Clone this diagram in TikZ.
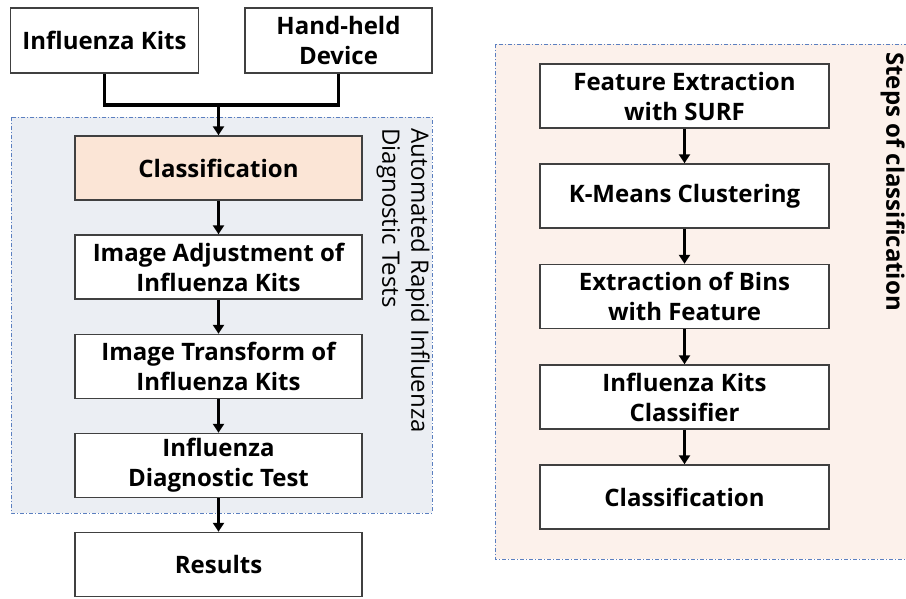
\documentclass[tikz,border=0pt]{standalone}
\usepackage{fontspec}
\setmainfont{Open Sans}
\usetikzlibrary{arrows.meta,positioning}
\definecolor{boxline}{HTML}{404040}
\definecolor{bluefill}{HTML}{EBEEF3}
\definecolor{bluedash}{HTML}{5B7FC0}
\definecolor{peachfill}{HTML}{FBE5D6}
\definecolor{lightpeach}{HTML}{FCF1EB}
\tikzset{
  stepbox/.style={draw=boxline, line width=1.5pt, fill=white, align=center,
    font=\fontsize{24}{30}\selectfont\bfseries, inner sep=0pt},
  leftbox/.style={stepbox, minimum width=287pt, minimum height=64pt},
  rightbox/.style={stepbox, minimum width=289pt, minimum height=64pt},
  flowarrow/.style={line width=3.5pt, -{Triangle[width=11pt,length=9pt]}},
  plainline/.style={line width=3.5pt},
  panel/.style={draw=bluedash, line width=1pt, dash pattern=on 4pt off 2pt on 1pt off 2pt},
}
\begin{document}
\begin{tikzpicture}[x=1pt,y=-1pt]
\useasboundingbox (0,0) rectangle (906,598);
\clip (0,0) rectangle (906,598);
% panels
\draw[panel, fill=bluefill] (11,117) rectangle (432,513);
\draw[panel, fill=lightpeach] (495,44) rectangle (920,559);
% top inputs
\node[stepbox, minimum width=188pt, minimum height=65pt] (ik) at (104.5,40.5) {Influenza Kits};
\node[stepbox, minimum width=187pt, minimum height=65pt] (hd) at (338.5,40.5) {Hand-held\\Device};
% left column
\node[leftbox, fill=peachfill] (cls) at (218.5,168) {Classification};
\node[leftbox] (adj) at (218.5,267) {Image Adjustment of\\Influenza Kits};
\node[leftbox] (tra) at (218.5,366.5) {Image Transform of\\Influenza Kits};
\node[leftbox] (dia) at (218.5,465.5) {Influenza\\Diagnostic Test};
\node[leftbox] (res) at (218.5,564.5) {Results};
\coordinate (j) at (218.5,105);
\draw[plainline] (ik.south) -- (ik.south |- j) -- (hd.south |- j) -- (hd.south);
\draw[flowarrow] (j) -- (cls.north);
\draw[flowarrow] (cls) -- (adj);
\draw[flowarrow] (adj) -- (tra);
\draw[flowarrow] (tra) -- (dia);
\draw[flowarrow] (dia) -- (res);
\node[rotate=-90, anchor=north west, align=left, inner sep=0pt,
  font=\fontsize{24}{29}\selectfont] (lbl) at (430,128)
  {Automated Rapid Influenza\\Diagnostic Tests};
% right column
\node[rightbox] (fe) at (684.5,96) {Feature Extraction\\with SURF};
\node[rightbox] (km) at (684.5,196) {K-Means Clustering};
\node[rightbox] (eb) at (684.5,296.5) {Extraction of Bins\\with Feature};
\node[rightbox] (kc) at (684.5,397) {Influenza Kits\\Classifier};
\node[rightbox] (cl2) at (684.5,497) {Classification};
\draw[flowarrow] (fe) -- (km);
\draw[flowarrow] (km) -- (eb);
\draw[flowarrow] (eb) -- (kc);
\draw[flowarrow] (kc) -- (cl2);
\node[rotate=-90, anchor=north west, inner sep=0pt,
  font=\fontsize{24}{29}\selectfont\bfseries] (steps) at (905,52)
  {Steps of classification};
\end{tikzpicture}
\end{document}
